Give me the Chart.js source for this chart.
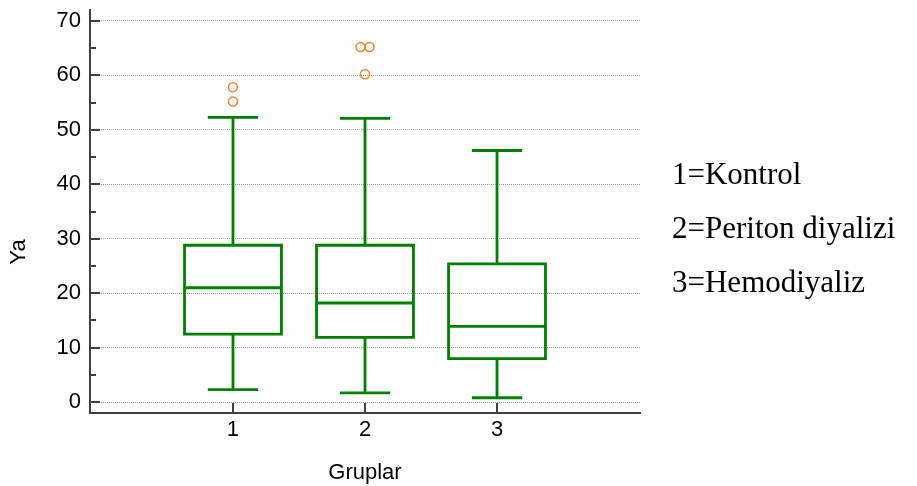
<!DOCTYPE html>
<html>
<head>
<meta charset="utf-8">
<script src="https://cdn.jsdelivr.net/npm/chart.js@4.4.0/dist/chart.umd.min.js"></script>
<style>
body { margin: 0; background: #fff; }
#wrap { width: 917px; height: 486px; }
</style>
</head>
<body>
<div id="wrap"><canvas id="chart" width="917" height="486"></canvas></div>
<script>
// box plot values
const groups = [1, 2, 3];
const groupNames = ['1=Kontrol', '2=Periton diyalizi', '3=Hemodiyaliz'];
const whiskerLow = [2.3, 1.7, 0.8];
const q1 = [12.5, 11.9, 8.0];
const median = [21.0, 18.2, 13.9];
const q3 = [28.8, 28.8, 25.4];
const whiskerHigh = [52.3, 52.1, 46.2];
const outliers = [[55.2, 57.8], [60.2, 65.2, 65.2], []];
const yTicks = [0, 10, 20, 30, 40, 50, 60, 70];
const yMinorTicks = [5, 15, 25, 35, 45, 55, 65];
const xTitle = 'Gruplar';
const yTitle = 'Ya';

const boxColor = '#008000';
const outlierColor = '#ff7f27';
const axisColor = '#404040';
const boxHalf = 0.367;   // half box width, x units
const capHalf = 0.18;    // half whisker cap width
const dupShift = 0.034;  // side shift for equal outliers
const sansFont = '"Liberation Sans", Arial, sans-serif';

// one polyline per group: box, median, whiskers and caps (null = break)
function boxPoints(i) {
    const g = groups[i];
    const gap = {x: g, y: null};
    return [
        {x: g - boxHalf, y: q1[i]}, {x: g + boxHalf, y: q1[i]},
        {x: g + boxHalf, y: q3[i]}, {x: g - boxHalf, y: q3[i]},
        {x: g - boxHalf, y: q1[i]}, gap,
        {x: g - boxHalf, y: median[i]}, {x: g + boxHalf, y: median[i]}, gap,
        {x: g, y: q3[i]}, {x: g, y: whiskerHigh[i]}, gap,
        {x: g - capHalf, y: whiskerHigh[i]}, {x: g + capHalf, y: whiskerHigh[i]}, gap,
        {x: g, y: q1[i]}, {x: g, y: whiskerLow[i]}, gap,
        {x: g - capHalf, y: whiskerLow[i]}, {x: g + capHalf, y: whiskerLow[i]}
    ];
}

function outlierPoints() {
    const pts = [];
    outliers.forEach((vals, i) => {
        vals.forEach((v, k) => {
            const same = vals.filter(w => w === v).length;
            const idx = vals.slice(0, k).filter(w => w === v).length;
            pts.push({x: groups[i] + (idx - (same - 1) / 2) * 2 * dupShift, y: v});
        });
    });
    return pts;
}

const datasets = groups.map((g, i) => ({
    data: boxPoints(i),
    showLine: true,
    borderColor: boxColor,
    borderWidth: 2.8,
    borderCapStyle: 'square',
    borderJoinStyle: 'miter',
    pointRadius: 0,
    fill: false,
    spanGaps: false
}));
datasets.push({
    data: outlierPoints(),
    showLine: false,
    pointStyle: 'circle',
    pointRadius: 4.5,
    pointBorderWidth: 1.5,
    pointBorderColor: outlierColor,
    pointBackgroundColor: 'rgba(0,0,0,0)'
});

// inward tick marks, rotated y title and the group key on the right
const axisDecor = {
    id: 'axisDecor',
    afterDraw(chart) {
        const {ctx, chartArea, scales: {x, y}} = chart;
        ctx.save();
        ctx.strokeStyle = axisColor;
        ctx.lineWidth = 2;
        ctx.beginPath();
        yTicks.forEach(v => {
            const py = Math.round(y.getPixelForValue(v));
            ctx.moveTo(chartArea.left, py);
            ctx.lineTo(chartArea.left + 10, py);
        });
        yMinorTicks.forEach(v => {
            const py = Math.round(y.getPixelForValue(v));
            ctx.moveTo(chartArea.left, py);
            ctx.lineTo(chartArea.left + 6, py);
        });
        groups.forEach(g => {
            const px = Math.round(x.getPixelForValue(g));
            ctx.moveTo(px, chartArea.bottom);
            ctx.lineTo(px, chartArea.bottom - 10);
        });
        ctx.stroke();

        ctx.fillStyle = '#000';
        ctx.font = '22px ' + sansFont;
        ctx.textAlign = 'center';
        ctx.textBaseline = 'middle';
        ctx.translate(18.5, 252);
        ctx.rotate(-Math.PI / 2);
        ctx.fillText(yTitle, 0, 0);
        ctx.restore();

        ctx.save();
        ctx.fillStyle = '#000';
        ctx.font = '31px "Liberation Serif", "Times New Roman", serif';
        ctx.textAlign = 'left';
        ctx.textBaseline = 'alphabetic';
        groupNames.forEach((t, i) => ctx.fillText(t, 672, 184 + i * 54));
        ctx.restore();
    }
};

new Chart(document.getElementById('chart'), {
    type: 'scatter',
    data: {datasets: datasets},
    plugins: [axisDecor],
    options: {
        responsive: false,
        animation: false,
        events: [],
        layout: {padding: {left: 0, right: 277, top: 10, bottom: 0}},
        plugins: {
            legend: {display: false},
            tooltip: {enabled: false}
        },
        scales: {
            x: {
                type: 'linear',
                min: -0.083,
                max: 4.083,
                afterBuildTicks: s => { s.ticks = groups.map(v => ({value: v})); },
                afterFit: s => { s.height = 73; s.paddingLeft = 0; s.paddingRight = 0; },
                grid: {display: false, drawTicks: false},
                border: {color: axisColor, width: 2},
                ticks: {
                    color: '#000',
                    font: {size: 22, family: sansFont},
                    padding: 4,
                    maxRotation: 0
                },
                title: {
                    display: true,
                    text: xTitle,
                    color: '#000',
                    font: {size: 22, family: sansFont},
                    padding: {top: 0, bottom: 0}
                }
            },
            y: {
                type: 'linear',
                min: -2,
                max: 72,
                afterBuildTicks: s => { s.ticks = yTicks.map(v => ({value: v})); },
                afterFit: s => { s.width = 90; s.paddingTop = 0; s.paddingBottom = 0; },
                grid: {color: '#9e9e9e', lineWidth: 1, drawTicks: false},
                border: {color: axisColor, width: 2, dash: [1, 1]},
                ticks: {
                    color: '#000',
                    font: {size: 22, family: sansFont},
                    padding: 9
                }
            }
        }
    }
});
</script>
</body>
</html>
